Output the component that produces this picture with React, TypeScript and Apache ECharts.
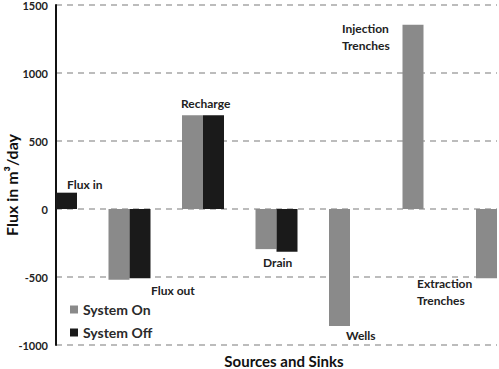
import React, { useEffect, useRef } from "react";
import * as echarts from "echarts";

const categories = ["Flux in", "Flux out", "Recharge", "Drain", "Wells", "Injection Trenches", "Extraction Trenches"];
const systemOn = [120, -520, 690, -295, -860, 1355, -510];
const systemOff = [120, -510, 690, -315, 0, 0, 0];
const yTicks = [-1000, -500, 0, 500, 1000, 1500];

const annotations = [
  { text: "Flux in", x: 67, y: 176 },
  { text: "Flux out", x: 151, y: 282 },
  { text: "Recharge", x: 181, y: 95 },
  { text: "Drain", x: 263, y: 254 },
  { text: "Wells", x: 346, y: 327 },
  { text: "Injection\nTrenches", x: 342, y: 20 },
  { text: "Extraction\nTrenches", x: 417, y: 275 },
];

const FONT = "Lato";
const BAR_W = 21;

function barRenderer(offset: number) {
  return (params: any, api: any) => {
    const cat = api.value(0);
    const val = api.value(1);
    const p0 = api.coord([cat, 0]);
    const p1 = api.coord([cat, val]);
    const h = Math.abs(p1[1] - p0[1]);
    return {
      type: "rect",
      shape: { x: p0[0] + offset, y: Math.min(p0[1], p1[1]), width: BAR_W, height: h },
      style: api.style(),
    };
  };
}

export default function App() {
  const ref = useRef<HTMLDivElement>(null);
  useEffect(() => {
    if (!ref.current) return;
    const chart = echarts.init(ref.current, null, { renderer: "svg" });
    chart.setOption({
      animation: false,
      backgroundColor: "#ffffff",
      textStyle: { fontFamily: FONT },
      grid: { left: 56, right: 2, top: 5, bottom: 24, containLabel: false, outerBoundsMode: "none" },
      legend: {
        orient: "vertical",
        left: 70,
        top: 301,
        padding: 0,
        itemWidth: 8,
        itemHeight: 8,
        itemGap: 6,
        icon: "rect",
        textStyle: { fontFamily: FONT, fontSize: 14, fontWeight: "bold", color: "#2a2a2a", lineHeight: 17 },
        data: ["System On", "System Off"],
      },
      xAxis: {
        type: "category",
        data: categories,
        boundaryGap: false,
        axisLine: { show: false },
        axisTick: { show: false },
        axisLabel: { show: false },
        splitLine: { show: false },
      },
      yAxis: {
        type: "value",
        min: yTicks[0],
        max: yTicks[yTicks.length - 1],
        interval: 500,
        axisLine: { show: true, onZero: false, lineStyle: { color: "#111", width: 2 } },
        axisTick: { show: false },
        axisLabel: {
          fontFamily: FONT,
          fontSize: 11,
          fontWeight: "bold",
          color: "#222",
          margin: 8,
          formatter: (v: number) => String(v),
        },
        splitLine: { show: true, lineStyle: { color: "#a6a6a6", type: [6, 5], width: 1.5 } },
      },
      series: [
        {
          name: "System On",
          type: "custom",
          clip: true,
          data: systemOn.map((v, i) => [i, v]),
          encode: { x: 0, y: 1 },
          renderItem: barRenderer(-BAR_W),
          itemStyle: { color: "#8a8a8a" },
          z: 2,
        },
        {
          name: "System Off",
          type: "custom",
          clip: true,
          data: systemOff.map((v, i) => [i, v]),
          encode: { x: 0, y: 1 },
          renderItem: barRenderer(0),
          itemStyle: { color: "#1a1a1a" },
          z: 2,
        },
      ],
      graphic: [
        ...annotations.map((a) => ({
          type: "text",
          left: a.x,
          top: a.y,
          style: {
            text: a.text,
            font: `bold 12px ${FONT}`,
            fill: "#222",
            lineHeight: 17,
          },
        })),
        {
          type: "text",
          x: 284,
          y: 361,
          style: {
            text: "Sources and Sinks",
            font: `bold 15px ${FONT}`,
            fill: "#111",
            align: "center",
            verticalAlign: "middle",
          },
        },
        {
          type: "text",
          x: 11,
          y: 185,
          rotation: Math.PI / 2,
          style: {
            text: "Flux in m³/day",
            font: `bold 16px ${FONT}`,
            fill: "#111",
            align: "center",
            verticalAlign: "middle",
          },
        },
      ],
    });
    return () => chart.dispose();
  }, []);
  return <div ref={ref} style={{ width: 499, height: 369, position: "absolute", left: 0, top: 0 }} />;
}
